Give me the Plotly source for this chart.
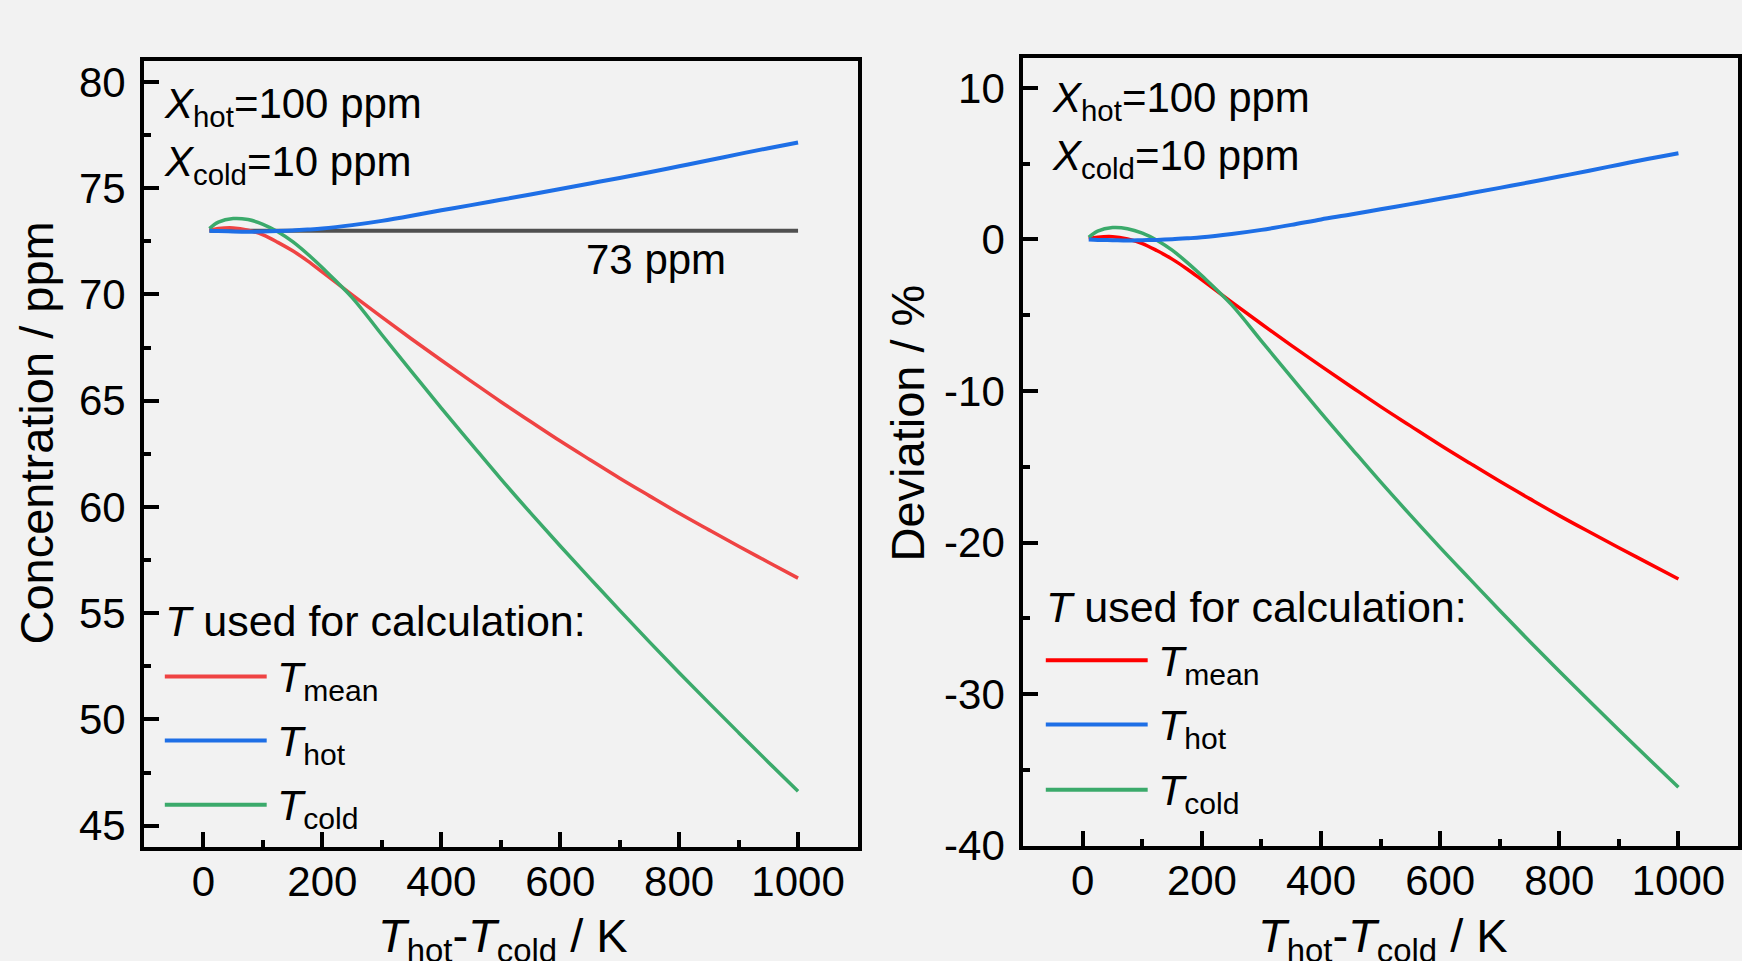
import plotly.graph_objects as go

# ---------------- data ----------------
dT = [10, 25, 50, 75, 100, 125, 150, 175, 200, 250, 300, 350, 400, 450, 500,
      550, 600, 650, 700, 750, 800, 850, 900, 950, 1000]

conc_mean = [73.02, 73.10, 73.13, 73.02, 72.80, 72.45, 72.05, 71.58, 71.05, 69.98,
             68.93, 67.90, 66.90, 65.92, 64.95, 64.02, 63.10, 62.22, 61.35, 60.52,
             59.70, 58.92, 58.15, 57.40, 56.65]
conc_hot = [73.00, 72.98, 72.96, 72.95, 72.96, 72.98, 73.01, 73.05, 73.10, 73.26,
            73.46, 73.70, 73.96, 74.20, 74.45, 74.70, 74.96, 75.22, 75.48, 75.75,
            76.03, 76.31, 76.60, 76.88, 77.15]
conc_cold = [73.10, 73.40, 73.57, 73.52, 73.30, 72.95, 72.48, 71.90, 71.25, 69.85,
             68.10, 66.37, 64.65, 62.98, 61.32, 59.72, 58.16, 56.64, 55.13, 53.65,
             52.20, 50.78, 49.38, 47.99, 46.62]

ref_x = [10, 1000]
ref_y = [73, 73]

dev_mean = [0.03, 0.14, 0.18, 0.03, -0.27, -0.75, -1.30, -1.95, -2.67, -4.14,
            -5.58, -6.99, -8.36, -9.70, -11.03, -12.30, -13.56, -14.77, -15.96, -17.10,
            -18.22, -19.29, -20.34, -21.37, -22.40]
dev_hot = [0.00, -0.03, -0.05, -0.07, -0.05, -0.03, 0.01, 0.07, 0.14, 0.36,
           0.63, 0.96, 1.32, 1.64, 1.99, 2.33, 2.68, 3.04, 3.40, 3.77,
           4.15, 4.53, 4.93, 5.32, 5.68]
dev_cold = [0.14, 0.55, 0.78, 0.71, 0.41, -0.07, -0.71, -1.51, -2.40, -4.32,
            -6.71, -9.08, -11.44, -13.73, -16.00, -18.19, -20.33, -22.41, -24.48, -26.51,
            -28.49, -30.44, -32.36, -34.26, -36.14]

x_ticks = [0, 200, 400, 600, 800, 1000]
x_ticktext = ["0", "200", "400", "600", "800", "1000"]
conc_ticks = [45, 50, 55, 60, 65, 70, 75, 80]
conc_ticktext = ["45", "50", "55", "60", "65", "70", "75", "80"]
dev_ticks = [-40, -30, -20, -10, 0, 10]
dev_ticktext = ["-40", "-30", "-20", "-10", "0", "10"]

legend_names = ["<i>T</i><sub>mean</sub>", "<i>T</i><sub>hot</sub>", "<i>T</i><sub>cold</sub>"]

# ---------------- styling ----------------
W, H = 1742, 988          # figure size (the capture maps this onto the 961-px picture)
REF_W, REF_H = 1742, 961  # picture coordinates used for placement
FONT = "Liberation Sans, Arial, sans-serif"
BG = "#f2f2f2"
RED_L, RED_R = "#ef4343", "#ff0000"
BLUE = "#1e6fe6"
GREEN = "#3baa6b"
GREY = "#505050"


def px(x):
    return x / REF_W


def py(y):
    return 1 - y / REF_H


fig = go.Figure()

# left panel
fig.add_trace(go.Scatter(x=ref_x, y=ref_y, mode="lines", line=dict(color=GREY, width=4),
                         xaxis="x", yaxis="y", showlegend=False))
fig.add_trace(go.Scatter(x=dT, y=conc_mean, mode="lines", line=dict(color=RED_L, width=3.5, shape="spline"),
                         xaxis="x", yaxis="y", showlegend=False))
fig.add_trace(go.Scatter(x=dT, y=conc_cold, mode="lines", line=dict(color=GREEN, width=3.5, shape="spline"),
                         xaxis="x", yaxis="y", showlegend=False))
fig.add_trace(go.Scatter(x=dT, y=conc_hot, mode="lines", line=dict(color=BLUE, width=4, shape="spline"),
                         xaxis="x", yaxis="y", showlegend=False))

# right panel
fig.add_trace(go.Scatter(x=dT, y=dev_mean, mode="lines", line=dict(color=RED_R, width=3.5, shape="spline"),
                         xaxis="x2", yaxis="y2", showlegend=False))
fig.add_trace(go.Scatter(x=dT, y=dev_cold, mode="lines", line=dict(color=GREEN, width=3.5, shape="spline"),
                         xaxis="x2", yaxis="y2", showlegend=False))
fig.add_trace(go.Scatter(x=dT, y=dev_hot, mode="lines", line=dict(color=BLUE, width=4, shape="spline"),
                         xaxis="x2", yaxis="y2", showlegend=False))

axis_common = dict(
    showline=True, linecolor="black", linewidth=4, mirror=True,
    ticks="inside", ticklen=15, tickwidth=4, tickcolor="black",
    showgrid=False, zeroline=False,
    tickfont=dict(family=FONT, size=42, color="black"),
)

fig.update_layout(
    width=W, height=H,
    margin=dict(l=0, r=0, t=0, b=0),
    paper_bgcolor=BG, plot_bgcolor=BG,
    showlegend=False,
    xaxis=dict(domain=[px(144.2), px(858.5)], range=[-100, 1100], anchor="y",
               tickvals=x_ticks, ticktext=x_ticktext,
               minor=dict(ticks="inside", ticklen=7, tickwidth=4, tickcolor="black", dtick=100, tick0=0),
               **axis_common),
    yaxis=dict(domain=[py(844.2), py(59.5)], range=[44, 81], anchor="x",
               tickvals=conc_ticks, ticktext=conc_ticktext, ticklabelstandoff=6,
               minor=dict(ticks="inside", ticklen=7, tickwidth=4, tickcolor="black", dtick=2.5, tick0=0),
               **axis_common),
    xaxis2=dict(domain=[px(1024.4), px(1740)], range=[-100, 1100], anchor="y2",
                tickvals=x_ticks, ticktext=x_ticktext,
                minor=dict(ticks="inside", ticklen=7, tickwidth=4, tickcolor="black", dtick=100, tick0=0),
                **axis_common),
    yaxis2=dict(domain=[py(843), py(56.4)], range=[-40, 12], anchor="x2",
                tickvals=dev_ticks, ticktext=dev_ticktext, ticklabelstandoff=6,
                minor=dict(ticks="inside", ticklen=7, tickwidth=4, tickcolor="black", dtick=5, tick0=0),
                **axis_common),
)

# pull the x tick labels a little closer to the axis
try:
    fig.update_layout(xaxis_ticklabelstandoff=-5, xaxis2_ticklabelstandoff=-5)
except Exception:
    fig.update_layout(xaxis_ticklabelstandoff=0, xaxis2_ticklabelstandoff=0)

ann = []


def text(x, y, s, size=42, xanchor="left", yanchor="middle", angle=0):
    ann.append(dict(x=px(x), y=py(y), xref="paper", yref="paper", text=s, showarrow=False,
                    xanchor=xanchor, yanchor=yanchor, textangle=angle, borderpad=0,
                    font=dict(family=FONT, size=size, color="black")))


# axis titles
text(36.7, 431, "Concentration / ppm", size=47, xanchor="center", angle=-90)
text(908.7, 421, "Deviation / %", size=47, xanchor="center", angle=-90)
text(503.5, 936, "<i>T</i><sub>hot</sub>-<i>T</i><sub>cold</sub> / K", size=47, xanchor="center")
text(1385, 936, "<i>T</i><sub>hot</sub>-<i>T</i><sub>cold</sub> / K", size=47, xanchor="center")

# condition labels
text(163, 105.5, "<i>X</i><sub>hot</sub>=100 ppm")
text(163, 163.5, "<i>X</i><sub>cold</sub>=10 ppm")
text(1052, 99, "<i>X</i><sub>hot</sub>=100 ppm")
text(1052, 157.5, "<i>X</i><sub>cold</sub>=10 ppm")

# reference line label
text(657, 258, "73 ppm", xanchor="center")

# legends (drawn manually)
shapes = []
legend_title = "<i>T</i> used for calculation:"
for (tx, ty, lx0, lx1, lys, labx, cols) in [
    (164, 619, 165, 267, [674, 738, 802], 276, [RED_L, BLUE, GREEN]),
    (1046, 605, 1047, 1149, [658, 722, 787], 1158, [RED_R, BLUE, GREEN]),
]:
    text(tx, ty, legend_title, size=43)
    for name, ly, c in zip(legend_names, lys, cols):
        shapes.append(dict(type="line", xref="paper", yref="paper",
                           x0=px(lx0), x1=px(lx1), y0=py(ly), y1=py(ly),
                           line=dict(color=c, width=4)))
        text(labx, ly + 3.2, name, size=43)

fig.update_layout(annotations=ann, shapes=shapes)

fig.write_html(
    "out.html",
    config={"displayModeBar": False},
    post_script=(
        "document.documentElement.style.overflow='hidden';"
        "document.body.style.margin='0';document.body.style.overflow='hidden';"
        "document.body.style.background='#f2f2f2';"
    ),
)
